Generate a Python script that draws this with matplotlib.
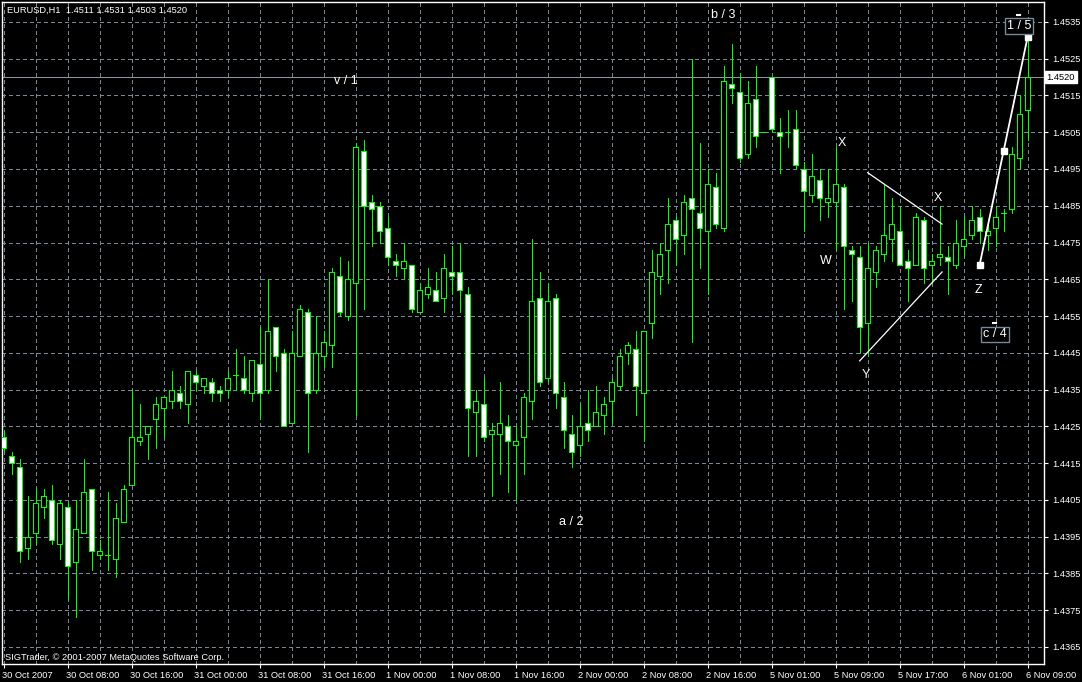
import matplotlib
matplotlib.use("Agg")
import matplotlib.pyplot as plt
import matplotlib.transforms as mtransforms
import numpy as np

# EURUSD H1, 30 Oct 2007 00:00 .. 6 Nov 2007 09:00
opens = [1.4422, 1.4417, 1.4414, 1.4392, 1.4396, 1.4403, 1.4405, 1.4393, 1.4403, 1.4388,
         1.4396, 1.4408, 1.4390, 1.4390, 1.4389, 1.4399, 1.4409, 1.4421, 1.4423, 1.4427,
         1.4430, 1.4432, 1.4434, 1.4431, 1.4439, 1.4436, 1.4437, 1.4435, 1.4435, 1.4439,
         1.4438, 1.4434, 1.4442, 1.4435, 1.4452, 1.4445, 1.4426, 1.4444, 1.4456, 1.4435,
         1.4444, 1.4447, 1.4466, 1.4455, 1.4464, 1.4500, 1.4486, 1.4485, 1.4479, 1.4470,
         1.4468, 1.4469, 1.4456, 1.4461, 1.4462, 1.4460, 1.4467, 1.4467, 1.4461, 1.4429,
         1.4431, 1.4423, 1.4423, 1.4425, 1.4420, 1.4422, 1.4432, 1.4460, 1.4438, 1.4460,
         1.4433, 1.4423, 1.4420, 1.4426, 1.4425, 1.4428, 1.4432, 1.4436, 1.4445, 1.4446,
         1.4434, 1.4453, 1.4466, 1.4473, 1.4481, 1.4477, 1.4487, 1.4483, 1.4478, 1.4490,
         1.4479, 1.4518, 1.4516, 1.4499, 1.4514, 1.4505, 1.4520, 1.4505, 1.4505, 1.4506,
         1.4495, 1.4488, 1.4492, 1.4486, 1.4486, 1.4490, 1.4473, 1.4471, 1.4453, 1.4467,
         1.4472, 1.4476, 1.4478, 1.4470, 1.4469, 1.4481, 1.4469, 1.4471, 1.4471, 1.4469,
         1.4474, 1.4477, 1.4482, 1.4477, 1.4479, 1.4483, 1.4484, 1.4498, 1.4511]

highs = [1.4424, 1.4418, 1.4416, 1.4406, 1.4408, 1.4408, 1.4409, 1.4405, 1.4404, 1.4405,
         1.4416, 1.4408, 1.4394, 1.4407, 1.4404, 1.4409, 1.4435, 1.4431, 1.4425, 1.4433,
         1.4433, 1.4440, 1.4436, 1.4440, 1.4440, 1.4438, 1.4438, 1.4436, 1.4440, 1.4446,
         1.4444, 1.4443, 1.4452, 1.4465, 1.4452, 1.4446, 1.4451, 1.4458, 1.4457, 1.4455,
         1.4451, 1.4468, 1.4471, 1.4470, 1.4502, 1.4503, 1.4488, 1.4486, 1.4482, 1.4472,
         1.4475, 1.4469, 1.4464, 1.4468, 1.4467, 1.4472, 1.4474, 1.4475, 1.4463, 1.4435,
         1.4438, 1.4426, 1.4437, 1.4428, 1.4425, 1.4434, 1.4476, 1.4467, 1.4464, 1.4461,
         1.4437, 1.4428, 1.4431, 1.4435, 1.4436, 1.4433, 1.4438, 1.4446, 1.4448, 1.4451,
         1.4451, 1.4473, 1.4475, 1.4487, 1.4482, 1.4488, 1.4525, 1.4502, 1.4495, 1.4494,
         1.4523, 1.4529, 1.4521, 1.4519, 1.4523, 1.4505, 1.4520, 1.4509, 1.4511, 1.4511,
         1.4497, 1.4499, 1.4495, 1.4495, 1.4501, 1.4491, 1.4474, 1.4474, 1.4475, 1.4474,
         1.4491, 1.4487, 1.4485, 1.4473, 1.4483, 1.4482, 1.4472, 1.4485, 1.4474, 1.4481,
         1.4482, 1.4485, 1.4484, 1.4481, 1.4485, 1.4484, 1.4501, 1.4515, 1.4531]

lows = [1.4418, 1.4412, 1.4388, 1.4389, 1.4393, 1.4400, 1.4393, 1.4389, 1.4378, 1.4373,
        1.4396, 1.4386, 1.4389, 1.4386, 1.4384, 1.4399, 1.4409, 1.4420, 1.4416, 1.4419,
        1.4422, 1.4430, 1.4430, 1.4426, 1.4435, 1.4434, 1.4432, 1.4432, 1.4433, 1.4435,
        1.4434, 1.4432, 1.4427, 1.4434, 1.4440, 1.4425, 1.4426, 1.4444, 1.4418, 1.4434,
        1.4441, 1.4441, 1.4455, 1.4454, 1.4428, 1.4457, 1.4474, 1.4475, 1.4469, 1.4466,
        1.4465, 1.4456, 1.4456, 1.4460, 1.4459, 1.4456, 1.4461, 1.4456, 1.4417, 1.4417,
        1.4421, 1.4406, 1.4412, 1.4407, 1.4405, 1.4412, 1.4427, 1.4436, 1.4437, 1.4430,
        1.4419, 1.4414, 1.4417, 1.4421, 1.4425, 1.4423, 1.4426, 1.4435, 1.4442, 1.4428,
        1.4421, 1.4449, 1.4461, 1.4464, 1.4469, 1.4472, 1.4448, 1.4468, 1.4461, 1.4479,
        1.4478, 1.4513, 1.4497, 1.4498, 1.4501, 1.4505, 1.4505, 1.4494, 1.4501, 1.4495,
        1.4478, 1.4486, 1.4481, 1.4482, 1.4473, 1.4457, 1.4459, 1.4445, 1.4444, 1.4463,
        1.4470, 1.4470, 1.4469, 1.4459, 1.4469, 1.4464, 1.4464, 1.4469, 1.4461, 1.4468,
        1.4471, 1.4476, 1.4475, 1.4473, 1.4474, 1.4478, 1.4483, 1.4495, 1.4503]

closes = [1.4419, 1.4415, 1.4391, 1.4395, 1.4404, 1.4406, 1.4394, 1.4404, 1.4387, 1.4397,
          1.4407, 1.4391, 1.4391, 1.4390, 1.4400, 1.4408, 1.4422, 1.4422, 1.4425, 1.4431,
          1.4433, 1.4435, 1.4432, 1.4440, 1.4437, 1.4438, 1.4434, 1.4434, 1.4438, 1.4439,
          1.4435, 1.4443, 1.4434, 1.4451, 1.4444, 1.4425, 1.4445, 1.4457, 1.4434, 1.4445,
          1.4448, 1.4467, 1.4456, 1.4465, 1.4501, 1.4485, 1.4484, 1.4478, 1.4471, 1.4469,
          1.4470, 1.4457, 1.4462, 1.4463, 1.4459, 1.4468, 1.4466, 1.4462, 1.4430, 1.4432,
          1.4422, 1.4424, 1.4426, 1.4421, 1.4421, 1.4433, 1.4459, 1.4437, 1.4459, 1.4434,
          1.4424, 1.4418, 1.4425, 1.4424, 1.4429, 1.4431, 1.4437, 1.4444, 1.4447, 1.4436,
          1.4451, 1.4467, 1.4472, 1.4480, 1.4476, 1.4486, 1.4484, 1.4479, 1.4491, 1.4480,
          1.4519, 1.4517, 1.4498, 1.4513, 1.4504, 1.4505, 1.4506, 1.4504, 1.4505, 1.4496,
          1.4489, 1.4493, 1.4487, 1.4487, 1.4491, 1.4474, 1.4472, 1.4452, 1.4468, 1.4473,
          1.4477, 1.4480, 1.4469, 1.4468, 1.4482, 1.4468, 1.4470, 1.4472, 1.4470, 1.4475,
          1.4476, 1.4481, 1.4478, 1.4478, 1.4482, 1.4483, 1.4499, 1.4510, 1.4520]

time_labels = ["30 Oct 2007", "30 Oct 08:00", "30 Oct 16:00", "31 Oct 00:00", "31 Oct 08:00",
               "31 Oct 16:00", "1 Nov 00:00", "1 Nov 08:00", "1 Nov 16:00", "2 Nov 00:00",
               "2 Nov 08:00", "2 Nov 16:00", "5 Nov 01:00", "5 Nov 09:00", "5 Nov 17:00",
               "6 Nov 01:00", "6 Nov 09:00"]
price_ticks = [1.4365, 1.4375, 1.4385, 1.4395, 1.4405, 1.4415, 1.4425, 1.4435, 1.4445,
               1.4455, 1.4465, 1.4475, 1.4485, 1.4495, 1.4505, 1.4515, 1.4525, 1.4535]
bid = 1.4520

# wave marks: (text, bar, price)
wave_labels = [("v / 1", 42.8, 1.4519), ("b / 3", 89.9, 1.4537), ("a / 2", 70.9, 1.4399),
               ("X", 104.8, 1.4502), ("X", 116.8, 1.4487), ("W", 102.8, 1.4470),
               ("Y", 107.8, 1.4439), ("Z", 121.9, 1.4462)]
boxed_labels = [("c / 4", 123.9, 1.4450, 1.4453), ("1 / 5", 126.9, 1.4534, 1.4537)]
z_bars = [122, 125, 128]
z_prices = [1.4469, 1.4500, 1.4531]
tri_upper = ([108, 117.3], [1.4494, 1.4480])
tri_lower = ([107, 117.3], [1.44428, 1.4467])

W, H = 1082, 682
green = "#00ff00"
gridc = "#778899"
fnt = "Liberation Sans"
px = 0.7  # one pixel line

fig = plt.figure(figsize=(W / 100, H / 100), dpi=100, facecolor="black")
ax = fig.add_axes([2 / W, 18 / H, 1042 / W, 662 / H], facecolor="black")

o = np.array(opens)
h = np.array(highs)
l = np.array(lows)
c = np.array(closes)
idx = np.arange(len(o))

# grid
for p in price_ticks:
    ax.axhline(p, color=gridc, lw=px, ls=(0, (4, 4)), zorder=1, antialiased=False)
for k in range(0, 130, 4):
    ax.axvline(k, color=gridc, lw=px, ls=(0, (4, 4)), zorder=1, antialiased=False)

ax.axhline(bid, color="#8c96a0", lw=px, zorder=2, antialiased=False)

# candles
ax.vlines(idx, l, h, color=green, lw=px, zorder=3, antialiased=False)
up = c >= o
ax.bar(idx, np.abs(c - o), bottom=np.minimum(o, c), width=0.55,
       color=np.where(up, "black", "white"), edgecolor=green, linewidth=px, zorder=4,
       antialiased=False)

# wave lines
ax.plot(tri_upper[0], tri_upper[1], color="white", lw=0.9, zorder=5)
ax.plot(tri_lower[0], tri_lower[1], color="white", lw=0.9, zorder=5)
ax.plot(z_bars, z_prices, color="white", lw=1.3, marker="s", ms=4, zorder=6)

for txt, xb, pr in wave_labels:
    ax.text(xb, pr, txt, color="white", fontsize=9, family=fnt, ha="center", va="center", zorder=7)
for txt, xb, pr, mark in boxed_labels:
    ax.text(xb, pr, txt, color="white", fontsize=9, family=fnt, ha="center", va="center", zorder=7,
            bbox=dict(boxstyle="square,pad=0.15", fc="black", ec=gridc, lw=1))
    ax.plot([xb - 0.2, xb + 0.2], [mark, mark], color="white", lw=1.5, zorder=7)

ax.set_xlim(-0.21, 130.04)
ax.set_ylim(1.436031, 1.454044)

# axes
for s in ax.spines.values():
    s.set_color("white")
    s.set_linewidth(1)
ax.yaxis.tick_right()
ax.set_yticks(price_ticks)
ax.set_yticklabels(["%.4f" % p for p in price_ticks])
ax.set_xticks(range(0, 129, 8))
ax.set_xticklabels(time_labels)
ax.tick_params(colors="white", labelsize=6.7, length=3, width=0.8)
ax.tick_params(axis="y", pad=3)
ax.tick_params(axis="x", pad=2)
for lab in ax.get_xticklabels() + ax.get_yticklabels():
    lab.set_family(fnt)
shift = mtransforms.ScaledTranslation(-2 / 100, 0, fig.dpi_scale_trans)
for lab in ax.get_xticklabels():
    lab.set_ha("left")
    lab.set_transform(lab.get_transform() + shift)

# bid label on price scale
ax.text(1.0025, bid, "%.4f" % bid, transform=ax.get_yaxis_transform(), color="black",
        fontsize=6.7, family=fnt, ha="left", va="center", zorder=8,
        bbox=dict(boxstyle="square,pad=0.2", fc="white", ec="white"), clip_on=False)

fig.text(7 / W, 1 - 10 / H, "EURUSD,H1  %.4f %.4f %.4f %.4f" % (opens[-1], highs[-1], lows[-1], closes[-1]),
         color="white", fontsize=6.7, family=fnt, ha="left", va="center")
fig.text(5 / W, 1 - 657 / H, "SIGTrader, \u00a9 2001-2007 MetaQuotes Software Corp.",
         color="white", fontsize=6.7, family=fnt, ha="left", va="center")

fig.savefig("out.png", dpi=100, facecolor="black")
